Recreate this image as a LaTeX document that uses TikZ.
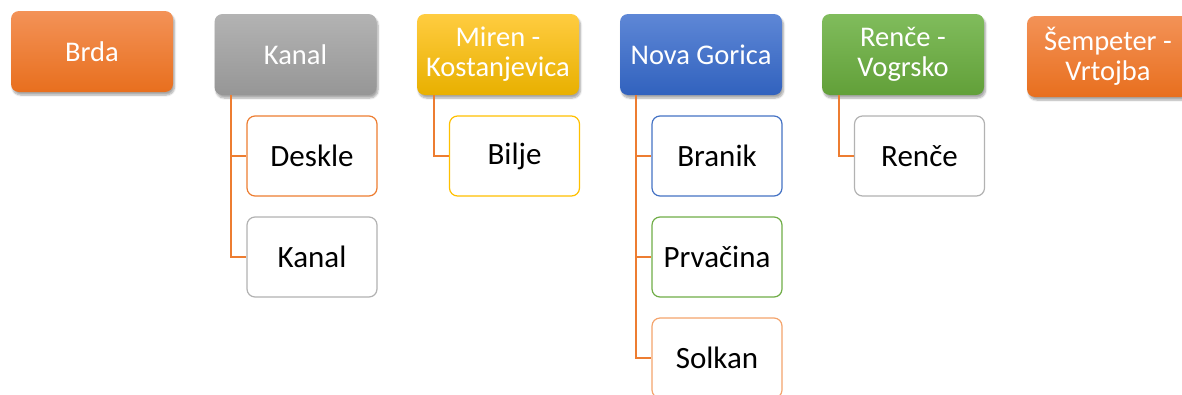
\documentclass[tikz,border=0pt]{standalone}
\usepackage{fontspec}
\setmainfont{Carlito}
\usetikzlibrary{shadows.blur}
\definecolor{orA}{HTML}{F39257}\definecolor{orB}{HTML}{E86F1E}
\definecolor{grA}{HTML}{B3B3B3}\definecolor{grB}{HTML}{969696}
\definecolor{goA}{HTML}{FFCC40}\definecolor{goB}{HTML}{E8B000}
\definecolor{blA}{HTML}{5E87D6}\definecolor{blB}{HTML}{3162BE}
\definecolor{gnA}{HTML}{80BC5C}\definecolor{gnB}{HTML}{62A039}
\definecolor{orL}{HTML}{ED7D31}\definecolor{grL}{HTML}{A5A5A5}
\definecolor{goL}{HTML}{FFC000}\definecolor{blL}{HTML}{4472C4}
\definecolor{gnL}{HTML}{70AD47}\definecolor{orS}{HTML}{F4A46C}
\definecolor{conn}{HTML}{ED7D31}
\tikzset{
  parentbox/.style={rounded corners=8pt, minimum width=162pt, minimum height=81pt,
    text=white, align=center, font=\fontsize{28.5}{30}\selectfont, inner sep=0pt,
    blur shadow={shadow xshift=1.5pt, shadow yshift=-3pt, shadow blur steps=6, shadow opacity=35}},
  childbox/.style={rounded corners=8pt, minimum width=130pt, minimum height=80pt,
    fill=white, draw, line width=1.2pt, text=black, align=center,
    font=\fontsize{31}{33}\selectfont, inner sep=0pt},
  connline/.style={draw=conn, line width=2.2pt}
}
\begin{document}
\begin{tikzpicture}[x=1pt,y=1pt]
\useasboundingbox (0,0) rectangle (1182,-394);
% parents
\node[parentbox, top color=orA, bottom color=orB] (brda) at (92,-51.5) {Brda};
\node[parentbox, top color=grA, bottom color=grB] (kanal) at (295.5,-54.5) {Kanal};
\node[parentbox, top color=goA, bottom color=goB] (miren) at (498,-54.5) {Miren -\\Kostanjevica};
\node[parentbox, top color=blA, bottom color=blB] (ng) at (701,-54.5) {Nova Gorica};
\node[parentbox, top color=gnA, bottom color=gnB] (rv) at (903,-54.5) {Renče -\\Vogrsko};
\node[parentbox, top color=orA, bottom color=orB] (sv) at (1108,-56.5) {Šempeter -\\Vrtojba};
% connector tops
\coordinate (kt) at ([xshift=17pt]kanal.south west);
\coordinate (mt) at ([xshift=17pt]miren.south west);
\coordinate (nt) at ([xshift=16pt]ng.south west);
\coordinate (rt) at ([xshift=17pt]rv.south west);
% children
\node[childbox, draw=orL] (deskle) at (312,-156) {Deskle};
\node[childbox, draw=grL!85] (kanal2) at (312,-257) {Kanal};
\node[childbox, draw=goL] (bilje) at (514.5,-156) {Bilje};
\node[childbox, draw=blL] (branik) at (717,-156) {Branik};
\node[childbox, draw=gnL] (prvacina) at (717,-257) {Prvačina};
\node[childbox, draw=orS] (solkan) at (717,-358) {Solkan};
\node[childbox, draw=grL!85] (rence) at (919.5,-156) {Renče};
% connectors
\draw[connline] (kt) |- (deskle.west);
\draw[connline] (kt) |- (kanal2.west);
\draw[connline] (mt) |- (bilje.west);
\draw[connline] (nt) |- (branik.west);
\draw[connline] (nt) |- (prvacina.west);
\draw[connline] (nt) |- (solkan.west);
\draw[connline] (rt) |- (rence.west);
\end{tikzpicture}
\end{document}
